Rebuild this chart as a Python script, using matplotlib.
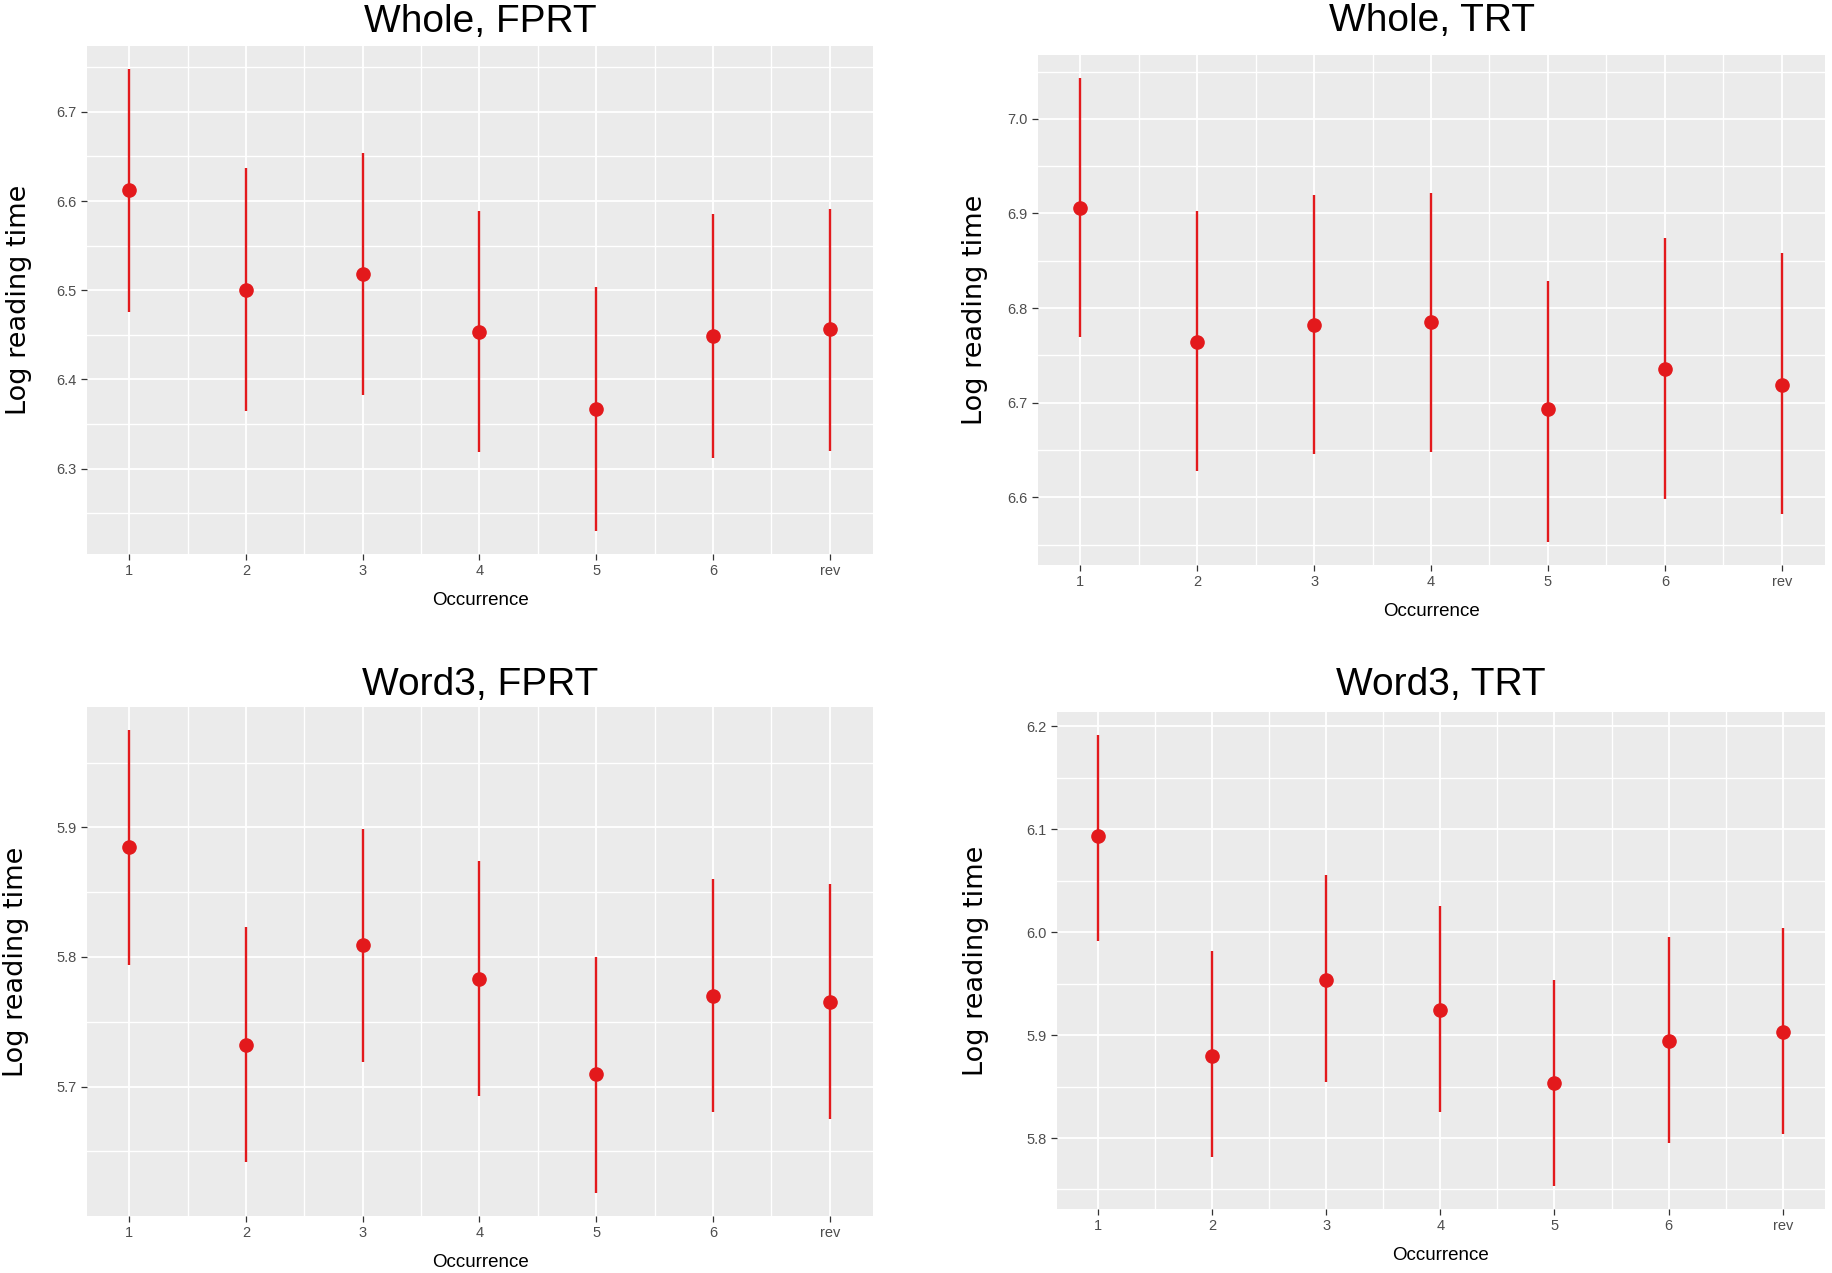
import numpy as np
import matplotlib.pyplot as plt
from matplotlib.ticker import MultipleLocator, FormatStrFormatter

occurrence = ["1", "2", "3", "4", "5", "6", "rev"]

# Whole, FPRT
whole_fprt_mean = [6.612, 6.500, 6.518, 6.453, 6.367, 6.449, 6.456]
whole_fprt_lo = [6.476, 6.365, 6.382, 6.318, 6.230, 6.312, 6.320]
whole_fprt_hi = [6.748, 6.637, 6.654, 6.589, 6.503, 6.585, 6.591]

# Whole, TRT
whole_trt_mean = [6.906, 6.764, 6.782, 6.785, 6.693, 6.736, 6.719]
whole_trt_lo = [6.769, 6.628, 6.646, 6.648, 6.553, 6.598, 6.582]
whole_trt_hi = [7.043, 6.903, 6.919, 6.922, 6.829, 6.874, 6.858]

# Word3, FPRT
word3_fprt_mean = [5.885, 5.732, 5.809, 5.783, 5.710, 5.770, 5.765]
word3_fprt_lo = [5.794, 5.642, 5.719, 5.693, 5.618, 5.680, 5.675]
word3_fprt_hi = [5.975, 5.823, 5.899, 5.874, 5.800, 5.860, 5.856]

# Word3, TRT
word3_trt_mean = [6.093, 5.880, 5.954, 5.924, 5.853, 5.894, 5.903]
word3_trt_lo = [5.991, 5.782, 5.854, 5.825, 5.753, 5.795, 5.804]
word3_trt_hi = [6.192, 5.982, 6.056, 6.025, 5.954, 5.995, 6.004]

titles = ["Whole, FPRT", "Whole, TRT", "Word3, FPRT", "Word3, TRT"]

RED = "#E3191C"
NARROW = ["Liberation Sans Narrow", "Liberation Sans", "DejaVu Sans"]

fig = plt.figure(figsize=(18.33, 12.73), dpi=100)

# axes box (figure fractions), y-label offset (px), title pad (pt)
boxes = [
    ([0.0475, 0.5648, 0.4288, 0.3991], 55, 10),
    ([0.5663, 0.5562, 0.4294, 0.4006], 50, 17),
    ([0.0475, 0.0448, 0.4288, 0.3998], 58, 8.5),
    ([0.5766, 0.0503, 0.4190, 0.3904], 68, 12),
]
series = [
    (whole_fprt_mean, whole_fprt_lo, whole_fprt_hi),
    (whole_trt_mean, whole_trt_lo, whole_trt_hi),
    (word3_fprt_mean, word3_fprt_lo, word3_fprt_hi),
    (word3_trt_mean, word3_trt_lo, word3_trt_hi),
]

for (box, ylab_off, tpad), (mean, lo, hi), title in zip(boxes, series, titles):
    ax = fig.add_axes(box)
    x = np.arange(len(occurrence))
    mean = np.array(mean)
    lo = np.array(lo)
    hi = np.array(hi)

    ax.set_facecolor("#EBEBEB")
    for s in ax.spines.values():
        s.set_visible(False)

    ax.vlines(x, lo, hi, color=RED, lw=1.7, zorder=3)
    ax.plot(x, mean, "o", color=RED, ms=9.5, zorder=4)

    # ggplot-like limits (5% expansion)
    rng = hi.max() - lo.min()
    ax.set_ylim(lo.min() - 0.05 * rng, hi.max() + 0.05 * rng)
    ax.set_xlim(-0.36, len(occurrence) - 1 + 0.37)

    ax.yaxis.set_major_locator(MultipleLocator(0.1))
    ax.yaxis.set_minor_locator(MultipleLocator(0.05))
    ax.yaxis.set_major_formatter(FormatStrFormatter("%.1f"))
    ax.set_xticks(x)
    ax.set_xticklabels(occurrence)
    ax.set_xticks(x[:-1] + 0.5, minor=True)

    ax.grid(which="major", color="white", lw=1.3, zorder=0)
    ax.grid(which="minor", color="white", lw=1.0, zorder=0)
    ax.set_axisbelow(True)

    ax.tick_params(which="major", length=4.5, width=0.9, color="#333333",
                   labelcolor="#4D4D4D", labelsize=10.5, pad=3)
    ax.tick_params(which="minor", length=0)
    for lab in ax.get_xticklabels() + ax.get_yticklabels():
        lab.set_family(NARROW)

    ax.set_xlabel("Occurrence", fontsize=13.5, family=NARROW, labelpad=10)
    ax.set_ylabel("Log reading time", fontsize=19.5)
    w_px = box[2] * 1833
    ax.yaxis.set_label_coords(-ylab_off / w_px, 0.5)
    ax.set_title(title, fontsize=28, family=NARROW, pad=tpad)

fig.savefig("out.png", dpi=100)
